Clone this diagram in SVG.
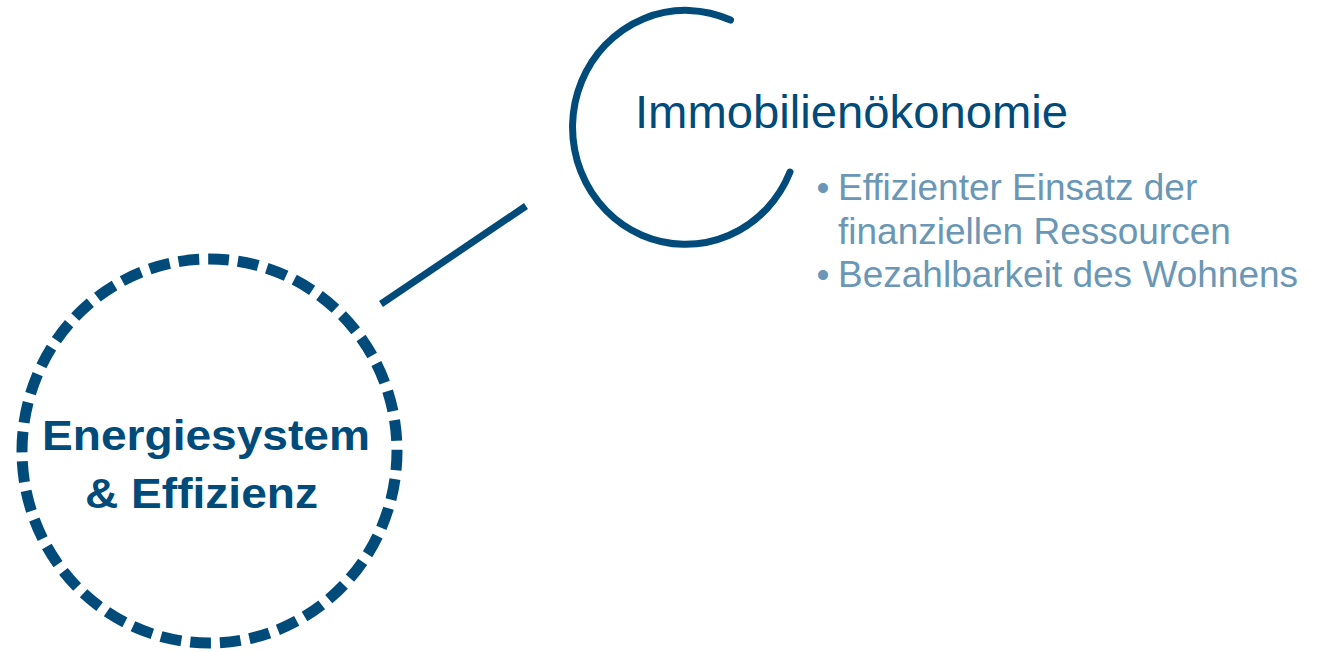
<svg xmlns="http://www.w3.org/2000/svg" width="1319" height="652" viewBox="0 0 1319 652">
<style>
.dark{fill:#004b79;font-family:"Liberation Sans",Arial,sans-serif;}
.bold{font-weight:bold;font-size:42.5px;}
.title{font-size:47px;}
.light{fill:#6a97b5;font-family:"Liberation Sans",Arial,sans-serif;font-size:37px;}
.stroke{fill:none;stroke:#004b79;}
</style>
<rect width="1319" height="652" fill="#ffffff"/>
<g id="connectors">
<line class="stroke" x1="381" y1="304" x2="526" y2="206" stroke-width="7"/>
</g>
<g id="node-energiesystem">
<ellipse class="stroke" cx="209.5" cy="451" rx="187.5" ry="192" stroke-width="11" stroke-dasharray="20.8 9" stroke-dashoffset="1.5"/>
<text class="dark bold" x="42" y="450" textLength="328" lengthAdjust="spacingAndGlyphs">Energiesystem</text>
<text class="dark bold" x="85" y="508" textLength="233" lengthAdjust="spacingAndGlyphs">&amp; Effizienz</text>
</g>
<g id="node-immobilien">
<path class="stroke" d="M730.5 20 A113 117 0 1 0 790 172" stroke-width="7" stroke-linecap="round"/>
<text class="dark title" x="635" y="128" textLength="433" lengthAdjust="spacingAndGlyphs">Immobilienökonomie</text>
<text class="light" x="816.5" y="200">•</text>
<text class="light" x="838" y="200">Effizienter Einsatz der</text>
<text class="light" x="838" y="243.5">finanziellen Ressourcen</text>
<text class="light" x="816.5" y="287">•</text>
<text class="light" x="838" y="287">Bezahlbarkeit des Wohnens</text>
</g>
</svg>
